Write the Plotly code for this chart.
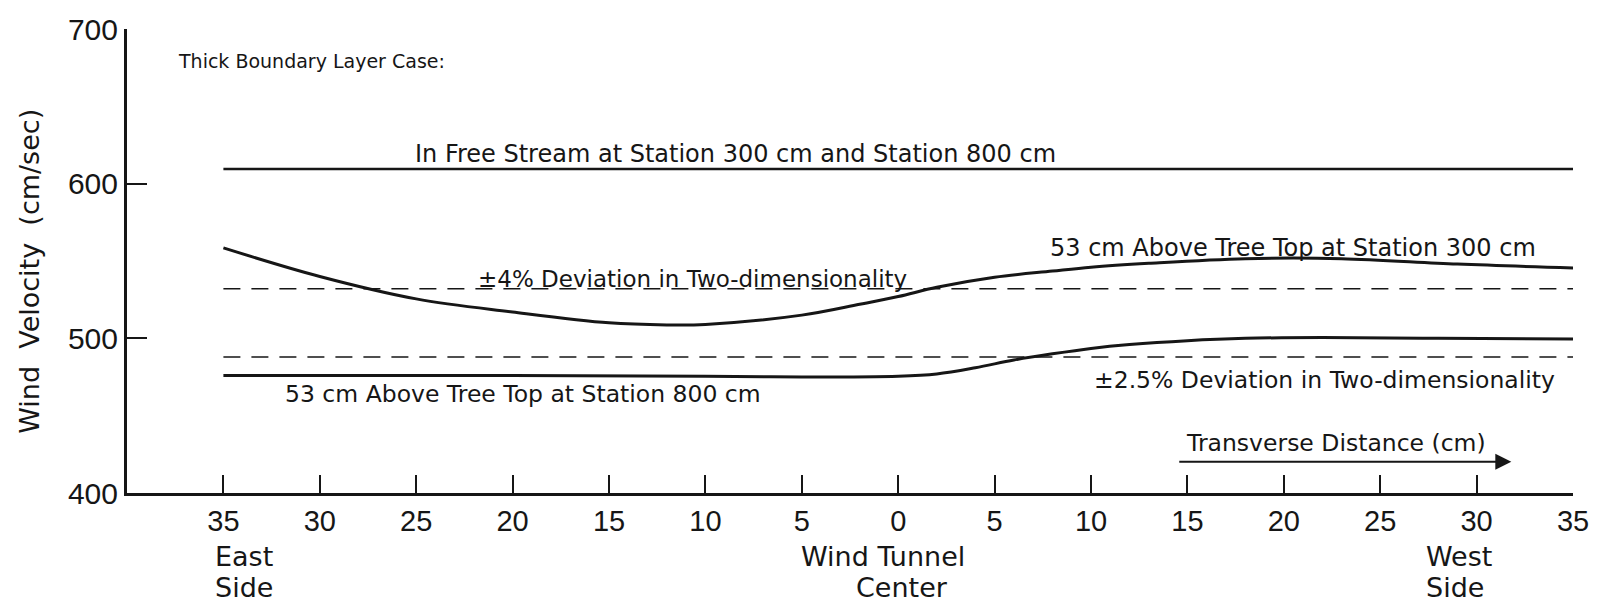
import plotly.graph_objects as go

# ---- data ----
x_tick_vals = [-35, -30, -25, -20, -15, -10, -5, 0, 5, 10, 15, 20, 25, 30, 35]
x_tick_text = ["35", "30", "25", "20", "15", "10", "5", "0", "5", "10", "15", "20", "25", "30", "35"]
y_tick_vals = [400, 500, 600, 700]
y_tick_text = ["400", "500", "600", "700"]

free_x = [-35, 35]
free_y = [609.5, 609.5]

st300_x = [-35, -30, -25, -20, -15, -12, -10, -5, -2, 0, 2, 5, 8, 10, 13, 18, 23, 29, 35]
st300_y = [558.5, 540, 525.5, 517, 510, 508.7, 509, 515, 522, 527, 533, 539.5, 543.5, 546, 548.5, 551.5, 551.5, 548, 545.5]

st800_x = [-35, -20, -10, -5, 0, 2, 4, 6, 8, 10, 12, 15, 18, 22, 28, 35]
st800_y = [476, 476, 475.5, 475, 475.5, 477, 481, 486, 490, 493.5, 496, 498.5, 500, 500.5, 500, 499.5]

dev4_x = [-35, 35]
dev4_y = [532, 532]
dev25_x = [-35, 35]
dev25_y = [488, 488]

INK = "#161616"
FONT = "DejaVu Sans, Liberation Sans, sans-serif"
TICKFONT = "Liberation Sans, Arial, sans-serif"

fig = go.Figure()
fig.add_trace(go.Scatter(x=free_x, y=free_y, mode="lines", line=dict(color=INK, width=2.5)))
fig.add_trace(go.Scatter(x=st300_x, y=st300_y, mode="lines", line=dict(color=INK, width=3, shape="spline", smoothing=1.0)))
fig.add_trace(go.Scatter(x=st800_x, y=st800_y, mode="lines", line=dict(color=INK, width=3, shape="spline", smoothing=1.0)))
fig.add_trace(go.Scatter(x=dev4_x, y=dev4_y, mode="lines", line=dict(color=INK, width=1.5, dash="17px,11px")))
fig.add_trace(go.Scatter(x=dev25_x, y=dev25_y, mode="lines", line=dict(color=INK, width=1.5, dash="17px,11px")))

def ann(text, x, y, size=22, xanchor="center", align="center", xref="x", yref="y", angle=0):
    fig.add_annotation(text=text, x=x, y=y, xref=xref, yref=yref, showarrow=False,
                       xanchor=xanchor, yanchor="middle", align=align, textangle=angle,
                       font=dict(family=FONT, size=size, color=INK))

ann("Thick Boundary Layer Case:", -37.47, 679, size=19, xanchor="left")
ann("In Free Stream at Station 300 cm and Station 800 cm", -8.42, 619.4, size=24)
ann("53 cm Above Tree Top at Station 300 cm", 20.47, 558.6, size=24)
ann("±4% Deviation in Two-dimensionality", -10.67, 538.2, size=23)
ann("53 cm Above Tree Top at Station 800 cm", -19.45, 464, size=23.5)
ann("±2.5% Deviation in Two-dimensionality", 22.13, 472.9, size=23.5)
ann("Transverse Distance (cm)", 22.72, 432.6, size=23.5)
ann("Wind  Velocity  (cm/sec)", -0.0675, 543.3, size=27, xref="paper", angle=-90)

# side / center labels under the axis (paper y)
ann("East", -35.55, -0.1365, size=27, xanchor="left", yref="paper")
ann("Side", -35.55, -0.2047, size=27, xanchor="left", yref="paper")
ann("Wind Tunnel", -0.77, -0.1365, size=27, yref="paper")
ann("Center", 0.21, -0.2047, size=27, yref="paper")
ann("West", 27.25, -0.1365, size=27, xanchor="left", yref="paper")
ann("Side", 27.25, -0.2047, size=27, xanchor="left", yref="paper")

# arrow for transverse distance
fig.add_annotation(x=31.8, y=420.2, ax=14.5, ay=420.2, xref="x", yref="y", axref="x", ayref="y",
                   showarrow=True, arrowhead=2, arrowsize=1.6, arrowwidth=2, arrowcolor=INK, text="")

fig.update_xaxes(range=[-40, 35], tickvals=x_tick_vals, ticktext=x_tick_text,
                 ticks="inside", ticklen=18, tickwidth=2, tickcolor=INK,
                 showline=True, linewidth=3, linecolor=INK, showgrid=False, zeroline=False,
                 tickfont=dict(family=TICKFONT, size=29, color=INK))
fig.update_yaxes(range=[400, 700], tickvals=y_tick_vals, ticktext=y_tick_text,
                 ticks="inside", ticklen=20, tickwidth=2, tickcolor=INK,
                 showline=True, linewidth=3, linecolor=INK, showgrid=False, zeroline=False,
                 tickfont=dict(family=TICKFONT, size=30, color=INK))

fig.update_layout(width=1601, height=605, margin=dict(l=127, r=23, t=24, b=112),
                  plot_bgcolor="white", paper_bgcolor="white", showlegend=False)

fig.write_html("out.html")
